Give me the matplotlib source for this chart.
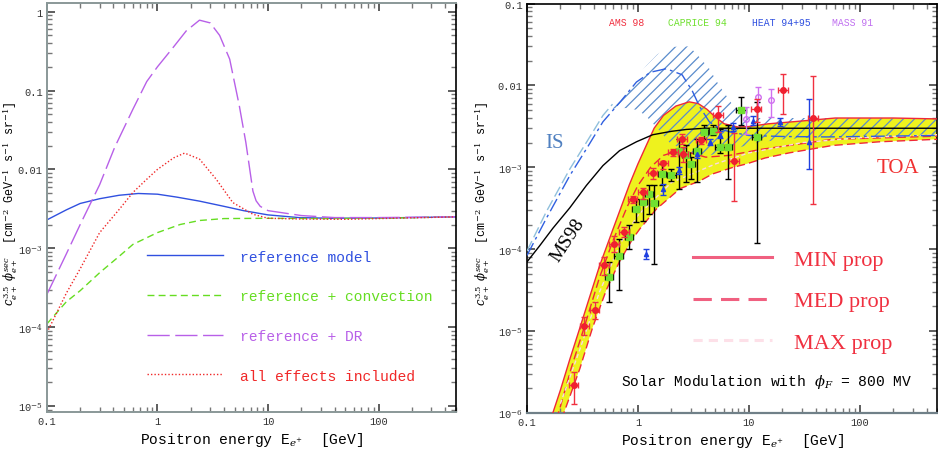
import matplotlib
matplotlib.use("Agg")
import matplotlib.pyplot as plt
import numpy as np

plt.rcParams['font.family'] = ['Liberation Mono', 'DejaVu Sans']
plt.rcParams['mathtext.fontset'] = 'dejavuserif'
plt.rcParams['hatch.linewidth'] = 0.9

# ---------------- left panel data ----------------
e_ref = [0.1, 0.15, 0.2, 0.3, 0.45, 0.67, 1.0, 1.5, 2.4, 4, 6, 10, 19, 38, 100, 500]
ref = [2.29e-3, 3.07e-3, 3.7e-3, 4.25e-3, 4.7e-3, 4.95e-3, 4.85e-3, 4.45e-3, 3.96e-3,
       3.4e-3, 3.0e-3, 2.65e-3, 2.45e-3, 2.4e-3, 2.42e-3, 2.5e-3]

e_conv = [0.1, 0.15, 0.2, 0.3, 0.45, 0.6, 1.0, 1.6, 2.4, 4, 10, 30, 100, 500]
conv = [1.1e-4, 2.1e-4, 2.9e-4, 4.9e-4, 7.9e-4, 1.12e-3, 1.58e-3, 2.0e-3, 2.25e-3,
        2.38e-3, 2.4e-3, 2.38e-3, 2.4e-3, 2.5e-3]

e_dr = [0.1, 0.15, 0.2, 0.3, 0.41, 0.6, 0.8, 1.0, 1.36, 1.82, 2.4, 3.0, 3.65, 4.5, 5.5,
        6.3, 7.3, 7.8, 8.5, 10, 20, 40, 100, 500]
dr = [2.6e-4, 8.5e-4, 2.0e-3, 6.4e-3, 0.019, 0.058, 0.13, 0.2, 0.34, 0.57, 0.78, 0.72,
      0.5, 0.25, 0.064, 0.022, 5.3e-3, 4.0e-3, 3.4e-3, 3.0e-3, 2.6e-3, 2.45e-3, 2.45e-3, 2.5e-3]

e_all = [0.1, 0.15, 0.2, 0.3, 0.45, 0.6, 0.8, 1.0, 1.4, 1.76, 2.4, 3.4, 4.8, 7.3, 10, 20,
         50, 100, 500]
allfx = [8.5e-5, 2.7e-4, 5.5e-4, 1.58e-3, 3.1e-3, 5.1e-3, 7.5e-3, 0.01, 0.014, 0.0161,
         0.0135, 7.5e-3, 3.8e-3, 2.7e-3, 2.4e-3, 2.35e-3, 2.33e-3, 2.38e-3, 2.5e-3]

left_labels = ["reference model", "reference + convection", "reference + DR",
               "all effects included"]

# ---------------- right panel data ----------------
e_up = [0.15, 0.171, 0.2, 0.243, 0.30, 0.37, 0.45, 0.6, 0.84, 1.0, 1.2, 1.4, 1.7, 2.2,
        2.9, 3.5, 4.2, 5.0, 6.0, 8.0, 10, 15, 25, 60, 200, 500]
band_up = [6e-7, 1e-6, 1.9e-6, 4.5e-6, 1.1e-5, 2.7e-5, 6.2e-5, 1.8e-4, 6.2e-4, 1.1e-3,
           1.9e-3, 3.0e-3, 4.3e-3, 5.6e-3, 6.3e-3, 6.0e-3, 5.1e-3, 4.1e-3, 3.4e-3,
           3.1e-3, 3.15e-3, 3.4e-3, 3.6e-3, 4.0e-3, 4.0e-3, 3.9e-3]
e_lo = [0.19, 0.215, 0.30, 0.39, 0.52, 0.68, 0.9, 1.05, 1.47, 2.4, 3.6, 4.7, 7.2, 9.5,
        14, 23, 57, 150, 500]
band_lo = [6e-7, 1e-6, 3.5e-6, 1.1e-5, 3.2e-5, 7e-5, 1.35e-4, 1.8e-4, 3.1e-4, 5.5e-4,
           6.8e-4, 8.3e-4, 1.0e-3, 1.1e-3, 1.3e-3, 1.5e-3, 1.85e-3, 2.05e-3, 2.2e-3]

e_med = [0.17, 0.2, 0.25, 0.32, 0.45, 0.6, 0.8, 1.0, 1.3, 1.7, 2.4, 3.0, 4.1, 6.7, 13,
         23, 57, 500]
med = [6e-7, 1.2e-6, 3.5e-6, 1.0e-5, 4.5e-5, 1.3e-4, 3.3e-4, 6e-4, 1.0e-3, 1.4e-3,
       1.62e-3, 1.5e-3, 1.33e-3, 1.4e-3, 1.66e-3, 1.85e-3, 2.2e-3, 2.4e-3]

e_max = [0.2, 0.3, 0.45, 0.7, 1.0, 2.0, 5.0, 10, 30, 100, 500]
mx = [1.3e-6, 6e-6, 3e-5, 1.2e-4, 2.6e-4, 6.5e-4, 1.1e-3, 1.5e-3, 2.0e-3, 2.3e-3, 2.5e-3]

e_is = [0.1, 0.15, 0.243, 0.35, 0.484, 0.7, 0.97, 1.3, 1.8, 2.5, 3.1, 3.6, 4.4, 5.5,
        6.8, 10, 20, 50, 100, 500]
is_flux = [8.4e-5, 2.4e-4, 7.9e-4, 1.75e-3, 3.6e-3, 6.4e-3, 0.011, 0.0145, 0.016,
           0.0135, 8.5e-3, 5.5e-3, 3.6e-3, 2.95e-3, 2.7e-3, 2.45e-3, 2.38e-3, 2.35e-3,
           2.38e-3, 2.45e-3]
e_ismax = [0.1, 0.15, 0.243, 0.35, 0.484, 0.59]
ismax = [9.5e-5, 2.9e-4, 9.5e-4, 2.1e-3, 4.3e-3, 5.9e-3]

e_h = [0.59, 0.785, 1.0, 1.19, 1.5, 1.93, 2.9, 3.6, 4.4, 5.4, 7.2, 8.8, 12, 20, 50,
       100, 500]
hatch_hi = [6.2e-3, 9.1e-3, 0.013, 0.0174, 0.024, 0.0295, 0.030, 0.022, 0.016, 0.010,
            5.7e-3, 4.3e-3, 4.0e-3, 4.0e-3, 4.0e-3, 4.0e-3, 3.9e-3]
hatch_lo = [5.2e-3, 5.3e-3, 5.0e-3, 4.2e-3, 3.0e-3, 2.0e-3, 1.5e-3, 1.4e-3, 1.4e-3,
            1.5e-3, 1.65e-3, 1.8e-3, 2.0e-3, 2.2e-3, 2.35e-3, 2.4e-3, 2.45e-3]

e_ms = [0.1, 0.13, 0.171, 0.243, 0.343, 0.484, 0.684, 0.97, 1.36, 2.0, 2.73, 4, 10,
        100, 500]
ms98 = [7e-5, 1.1e-4, 1.8e-4, 3.2e-4, 6e-4, 1.05e-3, 1.6e-3, 2.05e-3, 2.5e-3, 2.75e-3,
        2.9e-3, 3.0e-3, 3.0e-3, 3.0e-3, 3.0e-3]

# AMS 98
ams_e = [0.265, 0.327, 0.407, 0.494, 0.608, 0.748, 0.90, 1.11, 1.36, 1.68, 2.07, 2.49,
         2.54, 3.72, 5.26, 7.33, 11.8, 20.5, 37.8]
ams_e_lo = [0.24, 0.30, 0.37, 0.45, 0.55, 0.68, 0.82, 1.0, 1.23, 1.52, 1.87, 2.25, 2.3,
            3.37, 4.76, 6.6, 10.5, 18.5, 34]
ams_e_hi = [0.29, 0.36, 0.45, 0.55, 0.67, 0.83, 0.99, 1.22, 1.5, 1.85, 2.3, 2.75, 2.8,
            4.1, 5.8, 8.1, 13, 22.5, 42]
ams_y = [2.18e-6, 1.15e-5, 1.79e-5, 6.34e-5, 1.17e-4, 1.62e-4, 4.13e-4, 5.0e-4, 8.6e-4,
         1.13e-3, 1.53e-3, 2.23e-3, 1.46e-3, 2.13e-3, 4.3e-3, 1.21e-3, 5.2e-3, 8.7e-3, 4.0e-3]
ams_y_lo = [1.3e-6, 8.9e-6, 1.42e-5, 4.8e-5, 9.2e-5, 1.41e-4, 3.7e-4, 4.1e-4, 7.2e-4,
            9.6e-4, 1.37e-3, 1.9e-3, 1.16e-3, 1.94e-3, 2.7e-3, 3.9e-4, 3.6e-3, 4.5e-3, 3.6e-4]
ams_y_hi = [3.16e-6, 1.49e-5, 2.26e-5, 8.0e-5, 1.45e-4, 1.86e-4, 4.5e-4, 5.6e-4, 9.8e-4,
            1.21e-3, 1.68e-3, 2.57e-3, 1.77e-3, 2.34e-3, 5.6e-3, 2.6e-3, 6.8e-3, 0.0138, 0.0132]

# CAPRICE 94
cap_e = [0.548, 0.675, 0.83, 0.953, 1.11, 1.256, 1.41, 1.66, 2.0, 2.37, 2.72, 3.02, 3.43,
         3.98, 4.74, 5.44, 6.47, 8.53, 11.8]
cap_e_lo = [0.50, 0.61, 0.76, 0.88, 1.02, 1.16, 1.30, 1.52, 1.82, 2.2, 2.5, 2.8, 3.15,
            3.7, 4.4, 5.0, 5.9, 7.6, 10.6]
cap_e_hi = [0.60, 0.74, 0.91, 1.03, 1.2, 1.36, 1.53, 1.81, 2.2, 2.55, 2.95, 3.25, 3.72,
            4.3, 5.1, 5.9, 7.1, 9.5, 13]
cap_y = [4.57e-5, 8.2e-5, 1.41e-4, 3.06e-4, 3.76e-4, 4.75e-4, 3.7e-4, 8.3e-4, 8.1e-4,
         1.6e-3, 1.4e-3, 1.1e-3, 1.6e-3, 2.7e-3, 2.8e-3, 1.77e-3, 1.77e-3, 5.0e-3, 2.34e-3]
cap_y_lo = [2.26e-5, 3.16e-5, 1.01e-4, 2.15e-4, 2.24e-4, 2.7e-4, 6.6e-5, 6e-4, 6.8e-4,
            5.5e-4, 6.6e-4, 7.3e-4, 6.6e-4, 2.2e-3, 2.45e-3, 1.5e-3, 7.2e-4, 3.25e-3, 1.2e-4]
cap_y_hi = [6.97e-5, 1.35e-4, 1.95e-4, 4.06e-4, 5e-4, 6e-4, 6e-4, 1.1e-3, 9.5e-4,
            2.2e-3, 1.85e-3, 1.35e-3, 2.23e-3, 3.3e-3, 3.25e-3, 2.9e-3, 3.25e-3, 7.2e-3, 6.2e-3]

# HEAT 94+95
heat_e = [1.19, 1.70, 2.37, 3.43, 4.43, 5.44, 7.17, 10.9, 18.9, 34.7]
heat_y = [8.8e-5, 5.4e-4, 9.2e-4, 1.46e-3, 2.03e-3, 2.5e-3, 3.1e-3, 3.7e-3, 3.6e-3, 2.03e-3]
heat_y_lo = [7.7e-5, 4.6e-4, 8.3e-4, 1.3e-3, 1.85e-3, 2.3e-3, 2.8e-3, 3.3e-3, 3.2e-3, 9.6e-4]
heat_y_hi = [1.0e-4, 6.3e-4, 1.02e-3, 1.65e-3, 2.2e-3, 2.75e-3, 3.45e-3, 4.2e-3, 4.0e-3, 6.9e-3]

# MASS 91
mass_e = [9.33, 12.1, 15.9]
mass_y = [3.9e-3, 7.2e-3, 6.6e-3]
mass_y_lo = [2.57e-3, 4.95e-3, 4.1e-3]
mass_y_hi = [5.4e-3, 9.5e-3, 9.1e-3]

xticks = [0.1, 1, 10, 100]
xticklabels = ["0.1", "1", "10", "100"]
yticks_left = [1e-5, 1e-4, 1e-3, 0.01, 0.1, 1]
yticklabels_left = ["10$^{-5}$", "10$^{-4}$", "10$^{-3}$", "0.01", "0.1", "1"]
yticks_right = [1e-6, 1e-5, 1e-4, 1e-3, 0.01, 0.1]
yticklabels_right = ["10$^{-6}$", "10$^{-5}$", "10$^{-4}$", "10$^{-3}$", "0.01", "0.1"]

ylab = r"$c^{3.5}_{e+}\ \phi^{sec}_{e+}$  [cm$^{-2}$ GeV$^{-1}$ s$^{-1}$ sr$^{-1}$]"
xlab = r"Positron energy E$_{e^{+}}$  [GeV]"

fig = plt.figure(figsize=(9.38, 4.52), dpi=100)
ax1 = fig.add_axes([0.050, 0.0863, 0.436, 0.905])
ax2 = fig.add_axes([0.5618, 0.084, 0.4375, 0.906])


def style(ax, yt, ytl):
    ax.set_xscale("log")
    ax.set_yscale("log")
    ax.set_xlim(0.1, 500)
    ax.set_xticks(xticks)
    ax.set_xticklabels(xticklabels)
    ax.set_yticks(yt)
    ax.set_yticklabels(ytl)
    ax.tick_params(which="both", direction="in", top=True, right=True, labelsize=7.5,
                   colors="#333333")
    ax.tick_params(which="major", length=6, width=1.1, pad=3)
    ax.tick_params(which="minor", length=3.5, width=1.0, color="#777777")
    ax.set_xlabel(xlab, fontsize=10.5)
    ax.set_ylabel(ylab, fontsize=8.5)
    ax.xaxis.set_label_coords(0.5, -0.045)


# ---------------- left ----------------
ax = ax1
ax.plot(e_ref, ref, color="#3050e0", lw=1.0, label=left_labels[0])
ax.plot(e_conv, conv, color="#66dd22", lw=1.0, dashes=(5, 3), label=left_labels[1])
ax.plot(e_dr, dr, color="#b860e8", lw=1.0, dashes=(16, 4), label=left_labels[2])
ax.plot(e_all, allfx, color="#f02828", lw=1.0, dashes=(1, 1.5), label=left_labels[3])
style(ax, yticks_left, yticklabels_left)
ax.set_ylim(8.4e-6, 1.29)
ax.yaxis.set_label_coords(-0.066, 0.512)
for s in ["top", "left", "bottom"]:
    ax.spines[s].set_color("#8a9898")
    ax.spines[s].set_linewidth(1.4)
ax.spines["right"].set_linewidth(1.2)
leg = ax.legend(loc="upper left", bbox_to_anchor=(0.2445, 0.397), frameon=False,
                fontsize=10.5, handlelength=5.2, handletextpad=1.2, labelspacing=1.76,
                borderpad=0, borderaxespad=0, labelcolor="linecolor")

# ---------------- right ----------------
ax = ax2
ax.fill(np.r_[e_up, e_lo[::-1]], np.r_[band_up, band_lo[::-1]], color="#eef21e",
        lw=0, zorder=1)
ax.fill_between(e_h, hatch_lo, hatch_hi, facecolor="none", edgecolor="#5a8ccc",
                hatch="///", lw=0, zorder=2)
ax.plot(e_up, band_up, color="#f02838", lw=1.0, zorder=3, label="MIN prop")
ax.plot(e_lo, band_lo, color="#f02838", lw=1.0, dashes=(6, 3), zorder=3)
ax.plot(e_med, med, color="#f02838", lw=1.0, dashes=(6, 3), zorder=3, label="MED prop")
ax.plot(e_max, mx, color="#fcd8e4", lw=1.0, dashes=(3, 2), zorder=3, label="MAX prop")
ax.plot(e_is, is_flux, color="#3060e0", lw=1.0, dashes=(10, 3, 2, 3), zorder=3)
ax.plot(e_ismax, ismax, color="#90c0dc", lw=1.0, dashes=(8, 3), zorder=3)
ax.plot(e_ms, ms98, color="black", lw=1.0, zorder=3)

ams_e = np.array(ams_e)
ams_y = np.array(ams_y)
ax.errorbar(ams_e, ams_y,
            xerr=[ams_e - np.array(ams_e_lo), np.array(ams_e_hi) - ams_e],
            yerr=[ams_y - np.array(ams_y_lo), np.array(ams_y_hi) - ams_y],
            fmt="o", ms=4, color="#f02030", ecolor="#f03040", elinewidth=1.0,
            capsize=2.5, zorder=6)
cap_e = np.array(cap_e)
cap_y = np.array(cap_y)
ax.errorbar(cap_e, cap_y,
            xerr=[cap_e - np.array(cap_e_lo), np.array(cap_e_hi) - cap_e],
            yerr=[cap_y - np.array(cap_y_lo), np.array(cap_y_hi) - cap_y],
            fmt="s", ms=4, color="#70e030", ecolor="black", elinewidth=1.0,
            capsize=2.5, zorder=5)
heat_y = np.array(heat_y)
ax.errorbar(heat_e, heat_y,
            yerr=[heat_y - np.array(heat_y_lo), np.array(heat_y_hi) - heat_y],
            fmt="^", ms=3, color="#2040e0", elinewidth=1.0, capsize=2.5, zorder=5)
mass_y = np.array(mass_y)
ax.errorbar(mass_e, mass_y,
            yerr=[mass_y - np.array(mass_y_lo), np.array(mass_y_hi) - mass_y],
            fmt="o", ms=4, mfc="none", color="#d070f0", elinewidth=1.0, capsize=2.5,
            zorder=5)

style(ax, yticks_right, yticklabels_right)
ax.set_ylim(1e-6, 0.1)
ax.yaxis.set_label_coords(-0.085, 0.513)
ax.spines["bottom"].set_color("#708088")
ax.spines["bottom"].set_linewidth(1.6)
for s in ["top", "left", "right"]:
    ax.spines[s].set_linewidth(1.2)

leg2 = ax.legend(loc="upper left", bbox_to_anchor=(0.404, 0.4), frameon=False,
                 prop={"family": "Liberation Serif", "size": 16}, handlelength=3.55,
                 handletextpad=1.0, labelspacing=0.95, borderpad=0, borderaxespad=0,
                 labelcolor="#f03040")
for h, c in zip(leg2.legend_handles, ["#f06080", "#f06080", "#fde0e8"]):
    h.set_linewidth(2.2)
    h.set_color(c)

ax.text(0.242, 0.955, "AMS 98", color="#f03040", fontsize=7, ha="center",
        va="center", transform=ax.transAxes)
ax.text(0.415, 0.955, "CAPRICE 94", color="#70e030", fontsize=7, ha="center",
        va="center", transform=ax.transAxes)
ax.text(0.620, 0.955, "HEAT 94+95", color="#3050e0", fontsize=7, ha="center",
        va="center", transform=ax.transAxes)
ax.text(0.794, 0.955, "MASS 91", color="#c070f0", fontsize=7, ha="center",
        va="center", transform=ax.transAxes)
ax.text(0.0675, 0.66, "IS", color="#5080c0", fontsize=15, family="Liberation Serif",
        ha="center", va="center", transform=ax.transAxes)
ax.text(0.903, 0.600, "TOA", color="#f03030", fontsize=15, family="Liberation Serif",
        ha="center", va="center", transform=ax.transAxes)
ax.text(0.098, 0.425, "MS98", color="black", fontsize=14, family="Liberation Serif",
        rotation=57, ha="center", va="center", transform=ax.transAxes)
ax.text(0.23, 0.079, r"Solar Modulation with $\phi_F$ = 800 MV", color="black",
        fontsize=10.5, ha="left", va="center", transform=ax.transAxes)

fig.savefig("out.png", dpi=100)
